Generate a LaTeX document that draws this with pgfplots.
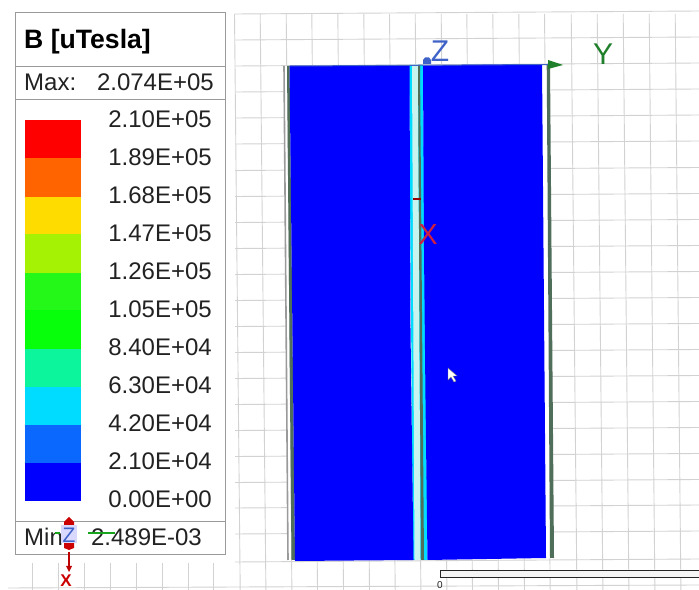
\documentclass[border=0pt]{standalone}
\usepackage{pgfplots}
\pgfplotsset{compat=1.18}
\usepackage{fontspec}
\setmainfont{Liberation Sans}
\definecolor{gridc}{HTML}{D2D2D2}
\definecolor{boxc}{HTML}{9A9A9A}
\definecolor{txt}{HTML}{222222}
\definecolor{c1}{HTML}{0000FF}
\definecolor{c2}{HTML}{0A68FF}
\definecolor{c3}{HTML}{00DCFF}
\definecolor{c4}{HTML}{0CF59C}
\definecolor{c5}{HTML}{08FF0C}
\definecolor{c6}{HTML}{24F818}
\definecolor{c7}{HTML}{A6F204}
\definecolor{c8}{HTML}{FFDC00}
\definecolor{c9}{HTML}{FF6400}
\definecolor{c10}{HTML}{FF0000}
\definecolor{dkg}{HTML}{4F6F5A}
\definecolor{lcy}{HTML}{C8F4F0}
\definecolor{ygreen}{HTML}{1F7F2A}
\definecolor{zblue}{HTML}{3F62C8}
\definecolor{xred}{HTML}{D02040}
\newcommand{\band}[3]{\addplot[draw=none,fill=#3,forget plot] coordinates {(24.5,#1)(81,#1)(81,#2)(24.5,#2)} --cycle;}
\newcommand{\tick}[2]{\node[anchor=east,text=txt,inner sep=0pt] at (axis cs:212,#1) {\fontsize{24bp}{28bp}\selectfont #2};}
\begin{document}
\begin{tikzpicture}
\begin{axis}[
  scale only axis,width=699bp,height=590bp,
  xmin=0,xmax=699,ymin=0,ymax=590,y dir=reverse,
  hide axis,clip=true]
% --- page
\addplot[draw=none,fill=white,forget plot] coordinates {(0,0)(699,0)(699,590)(0,590)} --cycle;
% --- grid
\pgfplotsinvokeforeach{14,40,66,92,118,144,170.5,196.5,222.5,248.5,274.5,300.5,326.5,352.5,378.5,404.5,430.5,456.5,482.5,508,534}{
  \addplot[gridc,line width=0.9bp,forget plot] coordinates {(235,#1)(699,#1-3)};}
\pgfplotsinvokeforeach{235,260.7,286.7,312.3,338.3,364.3,390,415.7,441.7,467.3,493.3,519.3,545,571.7,597.7,623.7,649.7,675.7}{
  \addplot[gridc,line width=0.9bp,forget plot] coordinates {(#1-0.5,14)(#1+5.2,590)};}
\pgfplotsinvokeforeach{32,58,84,110,136,162,188,213}{
  \addplot[gridc,line width=0.9bp,forget plot] coordinates {(#1,563)(#1,590)};}
\addplot[gridc,line width=0.9bp,forget plot] coordinates {(8,588)(699,585)};
\addplot[gridc,line width=0.9bp,forget plot] coordinates {(235,562)(699,559)};
% --- field
\addplot[draw=none,fill=white,forget plot] coordinates {(283.5,66)(287,66)(291,560)(287.5,560)} --cycle;
\addplot[draw=none,fill=dkg,forget plot] coordinates {(287,66)(289.5,66)(295,560)(291.5,560)} --cycle;
\addplot[boxc,line width=1.6bp,forget plot] coordinates {(284,66)(288,560)};
\addplot[draw=none,fill=white,forget plot] coordinates {(541,64)(547,64)(550,558)(545.5,558)} --cycle;
\addplot[draw=none,fill=dkg,forget plot] coordinates {(546.7,64)(550,64)(554,558)(550,558)} --cycle;
\addplot[draw=none,fill=c3,forget plot] coordinates {(409,65)(423,65)(427.5,560)(413,560)} --cycle;
\addplot[draw=none,fill=lcy,forget plot] coordinates {(412,65)(418,65)(420.5,560)(414.5,560)} --cycle;
\addplot[draw=none,fill=dkg,forget plot] coordinates {(418,65)(420,65)(424,560)(421,560)} --cycle;
\addplot[draw=none,fill=c1,forget plot] coordinates {(289.5,66)(409.5,65.5)(410,200)(410.5,330)(413.5,560)(295,561)} --cycle;
\addplot[draw=none,fill=c1,forget plot] coordinates {(423,65.5)(542,64)(546,558)(427.5,560)(425.5,400)(424,250)} --cycle;
% --- triad
\addplot[zblue,line width=1bp,forget plot] coordinates {(290,66)(548,64.5)};
\addplot[draw=none,fill=ygreen,forget plot] coordinates {(548,60)(563,65)(548,69)} --cycle;
\addplot[draw=none,fill=zblue,forget plot] coordinates {(423,60)(425,57.5)(429,57.5)(431,60)(431,64)(423,64)} --cycle;
\addplot[red!60!black,line width=1.2bp,forget plot] coordinates {(413,199)(421,199)};
\node[text=zblue,inner sep=0pt] at (axis cs:440,51) {\fontsize{30bp}{30bp}\selectfont Z};
\node[text=ygreen,inner sep=0pt] at (axis cs:603,54) {\fontsize{30bp}{30bp}\selectfont Y};
\node[text=xred,inner sep=0pt] at (axis cs:428,235) {\fontsize{29bp}{29bp}\selectfont X};
% --- cursor
\addplot[draw=gray,line width=0.4bp,fill=white,forget plot] coordinates {(448,368)(448,380)(451,377)(454,382)(456,381)(453,376)(457,376)} --cycle;
% --- scale bar
\addplot[draw=black!85,line width=1bp,fill=white!96!black,forget plot] coordinates {(440,571)(705,571)(705,578)(440,578)} --cycle;
\node[text=txt,inner sep=0pt,anchor=north] at (axis cs:440,581) {\fontsize{10bp}{10bp}\selectfont 0};
% --- legend
\addplot[draw=boxc,line width=1bp,fill=white,forget plot] coordinates {(15.5,12.5)(225,12.5)(225,555)(15.5,555)} --cycle;
\addplot[boxc,line width=1bp,forget plot] coordinates {(15.5,66.5)(225,66.5)};
\addplot[boxc,line width=1bp,forget plot] coordinates {(15.5,99.5)(225,99.5)};
\addplot[boxc,line width=1bp,forget plot] coordinates {(15.5,522)(225,522)};
\band{120.5}{158}{c10}
\band{158}{197}{c9}
\band{197}{234.5}{c8}
\band{234.5}{273}{c7}
\band{273}{310}{c6}
\band{310}{349}{c5}
\band{349}{387}{c4}
\band{387}{425}{c3}
\band{425}{463}{c2}
\band{463}{501}{c1}
\node[anchor=base west,text=black,inner sep=0pt] at (axis cs:24,49) {\fontsize{26.6bp}{30bp}\selectfont\bfseries B [uTesla]};
\node[anchor=base west,text=txt,inner sep=0pt] at (axis cs:24,91) {\fontsize{24bp}{28bp}\selectfont Max:};
\node[anchor=base east,text=txt,inner sep=0pt] at (axis cs:214,91) {\fontsize{24bp}{28bp}\selectfont 2.074E+05};
\tick{119.5}{2.10E+05}
\tick{157.5}{1.89E+05}
\tick{195.5}{1.68E+05}
\tick{233.5}{1.47E+05}
\tick{271.5}{1.26E+05}
\tick{309.5}{1.05E+05}
\tick{347.5}{8.40E+04}
\tick{385.5}{6.30E+04}
\tick{423.5}{4.20E+04}
\tick{461.5}{2.10E+04}
\tick{499.5}{0.00E+00}
\node[anchor=base west,text=txt,inner sep=0pt] at (axis cs:24,546) {\fontsize{24bp}{28bp}\selectfont Min:};
\node[anchor=base east,text=txt,inner sep=0pt] at (axis cs:202,546) {\fontsize{24bp}{28bp}\selectfont 2.489E-03};
% --- small triad over legend
\addplot[draw=none,fill=red!80!black,forget plot] coordinates {(64,522)(69,517)(74,522)(74,548)(69,550)(64,548)} --cycle;
\addplot[draw=none,fill=white!85!blue,forget plot] coordinates {(61,525)(77,525)(77,543)(61,543)} --cycle;
\addplot[ygreen!70!green,line width=1.5bp,forget plot] coordinates {(55,533)(60,533)};
\addplot[ygreen!70!green,line width=1.5bp,forget plot] coordinates {(88,533)(115,533)};
\addplot[red!75!black,line width=1.2bp,forget plot] coordinates {(69,552)(69,570)};
\addplot[draw=none,fill=red!75!black,forget plot] coordinates {(66,566)(72,566)(69,572)} --cycle;
\node[text=zblue,inner sep=0pt] at (axis cs:69,535) {\fontsize{21bp}{21bp}\selectfont Z};
\node[text=red!80!black,inner sep=0pt] at (axis cs:66,581) {\fontsize{17bp}{17bp}\selectfont\bfseries X};
\end{axis}
\end{tikzpicture}
\end{document}
